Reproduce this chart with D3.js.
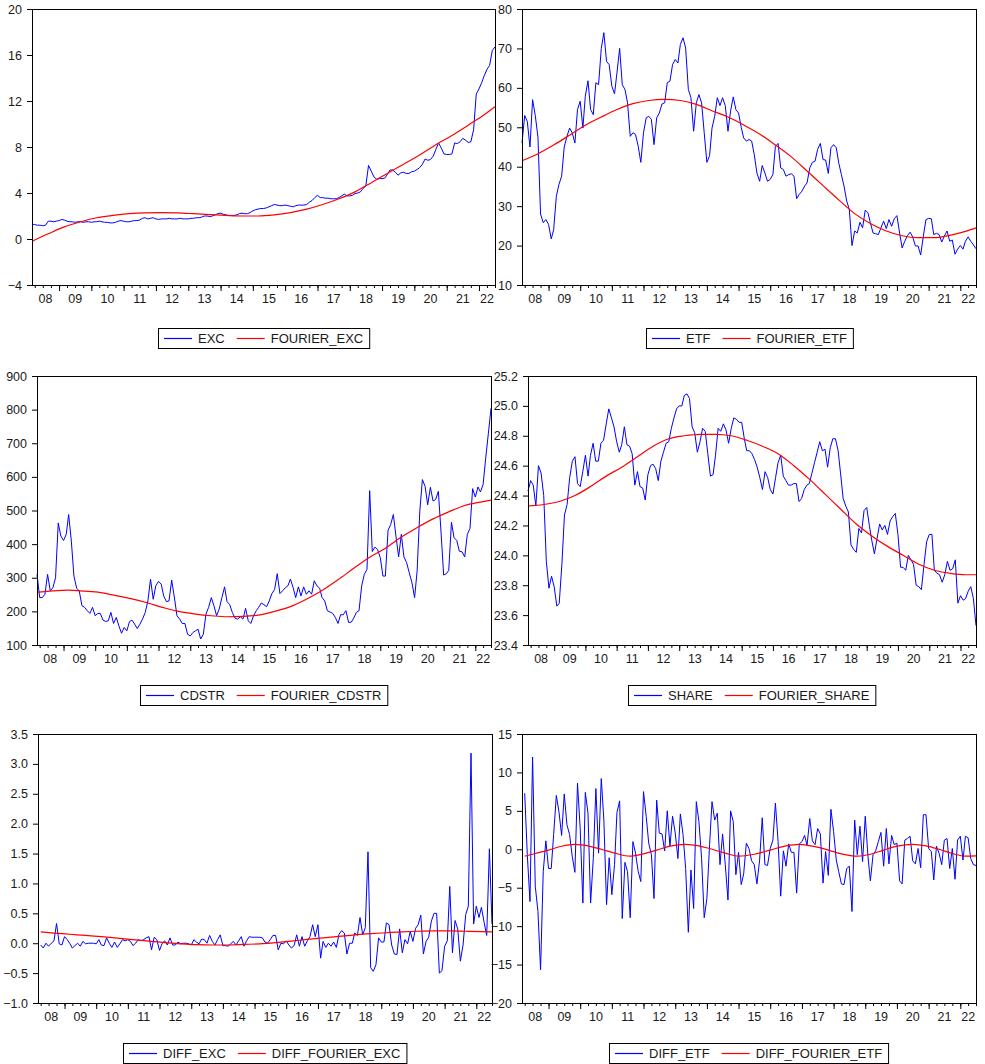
<!DOCTYPE html>
<html>
<head>
<meta charset="utf-8">
<script src="https://cdn.jsdelivr.net/npm/d3@7"></script>
<style>
  body { margin: 0; background: #fff; }
  svg text { font-family: "Liberation Sans", Arial, sans-serif; fill: #1a1a1a; }
</style>
</head>
<body>
<svg id="chart" width="985" height="1064"></svg>
<script>
// monthly sample 2008M03 .. 2022M07, value i belongs to month start + i
var startMonth = new Date(2008, 2, 1);
var yearLabels = ['08', '09', '10', '11', '12', '13', '14', '15', '16', '17', '18', '19', '20', '21', '22'];

var excValues = [
  1.3, 1.25, 1.2, 1.2, 1.15, 1.2, 1.55, 1.55, 1.5, 1.55, 1.6, 1.7, 1.65, 1.55, 1.5,
  1.5, 1.45, 1.5, 1.5, 1.45, 1.5, 1.5, 1.45, 1.5, 1.5, 1.55, 1.5, 1.45, 1.45, 1.4,
  1.4, 1.45, 1.55, 1.6, 1.55, 1.5, 1.5, 1.55, 1.6, 1.6, 1.65, 1.8, 1.85, 1.75, 1.8,
  1.85, 1.75, 1.7, 1.75, 1.75, 1.75, 1.8, 1.75, 1.75, 1.75, 1.8, 1.75, 1.75, 1.75, 1.8,
  1.8, 1.85, 1.85, 1.9, 2.0, 2.0, 1.95, 2.0, 2.1, 2.2, 2.25, 2.15, 2.1, 2.05, 2.05,
  2.05, 2.1, 2.2, 2.25, 2.2, 2.2, 2.3, 2.45, 2.55, 2.6, 2.65, 2.65, 2.7, 2.8, 2.9,
  3.0, 2.95, 2.9, 2.9, 2.95, 2.9, 2.85, 2.8, 2.9, 2.95, 2.95, 2.95, 3.0, 3.2, 3.35,
  3.6, 3.8, 3.6, 3.6, 3.55, 3.55, 3.5, 3.5, 3.5, 3.6, 3.75, 3.9, 3.75, 3.75, 3.8,
  3.95, 4.0, 4.1, 4.4, 4.6, 6.4, 5.9, 5.4, 5.2, 5.25, 5.25, 5.3, 5.6, 6.0, 6.0,
  5.8, 5.55, 5.75, 5.8, 5.7, 5.7, 5.85, 5.9, 6.05, 6.2, 6.5, 6.95, 6.85, 6.9, 7.2,
  7.8, 8.35, 7.9, 7.4, 7.35, 7.35, 7.4, 8.35, 8.3, 8.45, 8.75, 8.6, 8.4, 8.45, 9.5,
  12.6, 13.05, 13.6, 14.2, 14.75, 15.1, 16.4, 16.7
];

var etfValues = [
  46, 53, 51.5, 45, 57, 53, 47.5, 28, 25.8, 26.6, 25.4, 21.7, 24, 32.5, 35.5,
  37.6, 45, 47.7, 49.8, 48.6, 46, 54.5, 56.6, 49.8, 57.9, 61.8, 54.5, 53.2, 61.3, 60.8,
  70, 74, 66.7, 65.9, 60.4, 58.5, 63.8, 70, 60.8, 59.6, 56.2, 47.7, 48.6, 48.2, 45.2,
  41.1, 48.6, 52.4, 52.8, 52, 45.6, 52.4, 53.6, 55.9, 56.2, 61.3, 61.7, 65.9, 67.2, 66.3,
  71, 72.7, 70.1, 59.6, 57.5, 49, 56.2, 58.3, 56.2, 48.6, 41.1, 42.8, 49.8, 52.8, 57.5,
  55.5, 57.5, 55.5, 49, 54.1, 57.7, 54.5, 53.6, 50, 47.3, 46.5, 46.9, 46.5, 43.1, 38.4,
  36.3, 40.3, 38.4, 36.3, 36.8, 38.0, 45.2, 45.9, 39.7, 39.3, 37.6, 38.0, 38.2, 37.6, 31.9,
  33.0, 33.8, 35.1, 35.9, 39.7, 41.1, 41.4, 44.4, 45.9, 41.8, 41.7, 38.3, 44.8, 45.6, 44.8,
  41.0, 38, 35.1, 31.3, 29.2, 20.0, 23.7, 23.2, 25.9, 24.5, 29.0, 28.3, 25.8, 23.2, 23,
  22.8, 24.5, 26.2, 24.3, 26.6, 24.9, 26.8, 27.6, 23.2, 19.4, 21.1, 22.5, 23.4, 22.2, 19.9,
  19.9, 17.6, 22.4, 26.6, 26.9, 26.8, 22.8, 23.1, 22.8, 20.9, 22.4, 23.7, 21.1, 21.4, 17.8,
  19.1, 20.0, 19.1, 21.1, 22.2, 21.1, 20.2, 19.2
];

var cdstrValues = [
  310, 241, 241, 251, 310, 261, 271, 300, 463, 424, 411, 429, 488, 409, 305,
  269, 261, 217, 212, 202, 194, 212, 187, 194, 194, 174, 170, 172, 197, 164,
  182, 157, 135, 152, 142, 170, 174, 162, 149, 162, 177, 197, 231, 296, 236,
  276, 289, 281, 246, 229, 231, 293, 243, 187, 177, 164, 164, 132, 127, 137,
  142, 147, 118, 132, 192, 212, 241, 217, 187, 207, 241, 273, 229, 220, 197,
  180, 177, 184, 177, 209, 172, 164, 187, 202, 212, 225, 220, 214, 231, 253,
  265, 312, 253, 261, 270, 276, 296, 271, 241, 273, 246, 273, 251, 261, 251,
  291, 276, 269, 241, 231, 202, 198, 194, 182, 164, 190, 190, 202, 167, 168,
  180, 197, 202, 276, 310, 325, 559, 378, 391, 384, 360, 305, 305, 441, 458,
  488, 424, 362, 429, 362, 345, 315, 286, 241, 320, 498, 592, 572, 517, 569,
  528, 533, 557, 439, 308, 312, 322, 465, 419, 411, 379, 377, 362, 429, 447,
  565, 540, 570, 555, 577, 656, 730, 804
];

var shareValues = [
  24.43, 24.50, 24.47, 24.33, 24.60, 24.55, 24.40, 23.96, 23.78, 23.86,
  23.79, 23.66, 23.68, 23.94, 24.27, 24.34, 24.52, 24.63, 24.66, 24.48,
  24.46, 24.56, 24.67, 24.53, 24.67, 24.75, 24.63, 24.63, 24.75, 24.77,
  24.88, 24.98, 24.92, 24.86, 24.76, 24.69, 24.74, 24.86, 24.74, 24.73,
  24.68, 24.47, 24.56, 24.46, 24.45, 24.37, 24.54, 24.60, 24.61, 24.58,
  24.50, 24.63, 24.69, 24.75, 24.76, 24.85, 24.92, 24.98, 25.00, 25.00,
  25.07, 25.08, 25.05, 24.86, 24.82, 24.69, 24.76, 24.85, 24.83, 24.68,
  24.53, 24.54, 24.67, 24.85, 24.83, 24.88, 24.84, 24.75, 24.85, 24.92,
  24.91, 24.89, 24.89, 24.78, 24.70, 24.70, 24.68, 24.64, 24.59, 24.52,
  24.44, 24.56, 24.52, 24.44, 24.41, 24.52, 24.62, 24.67, 24.53, 24.50,
  24.47, 24.47, 24.48, 24.48, 24.36, 24.38, 24.44, 24.47, 24.48, 24.55,
  24.62, 24.69, 24.76, 24.70, 24.71, 24.59, 24.72, 24.78, 24.78, 24.70,
  24.55, 24.38, 24.33, 24.29, 24.07, 24.04, 24.02, 24.18, 24.15, 24.30,
  24.32, 24.20, 24.10, 24.01, 24.11, 24.21, 24.17, 24.20, 24.14, 24.23,
  24.26, 24.28, 24.14, 23.92, 23.92, 23.90, 24.00, 23.97, 23.94, 23.80,
  23.79, 23.77, 23.94, 24.09, 24.14, 24.14, 23.90, 23.88, 23.87, 23.82,
  23.87, 23.96, 23.90, 23.91, 23.97, 23.68, 23.73, 23.70, 23.71, 23.76,
  23.79, 23.71, 23.53
];

var diffExcValues = [
  null,
  -0.03, -0.08, 0.0, -0.05, 0.0, 0.04, 0.33, -0.01, -0.03, 0.11,
  0.06, 0.0, -0.08, -0.04, 0.0, -0.05, 0.03, -0.01, 0.0, 0.0,
  0.0, -0.01, 0.06, -0.03, -0.04, 0.09, 0.0, -0.07, 0.02, -0.07,
  -0.01, 0.06, 0.04, 0.06, 0.03, -0.04, 0.0, 0.06, 0.04, 0.06,
  0.09, 0.11, -0.11, 0.10, 0.06, -0.12, 0.0, 0.04, -0.03, 0.09,
  -0.03, -0.03, 0.02, -0.01, 0.0, 0.0, -0.01, -0.03, 0.06, 0.02,
  -0.01, 0.07, 0.06, 0.0, 0.13, 0.03, -0.03, 0.06, 0.14, -0.04,
  -0.04, -0.05, -0.01, 0.03, -0.03, 0.04, 0.11, -0.05, 0.04, 0.11,
  0.10, 0.10, 0.10, 0.10, 0.09, 0.02, 0.0, 0.06, 0.13, 0.13,
  -0.11, 0.0, -0.01, 0.04, -0.03, -0.08, -0.04, 0.14, -0.05, 0.11,
  -0.05, 0.04, 0.11, 0.31, 0.11, 0.31, -0.25, 0.03, -0.07, 0.0,
  -0.05, 0.02, -0.07, 0.15, 0.21, 0.17, -0.18, 0.0, 0.0, 0.17,
  0.13, 0.43, 0.14, 0.26, 1.53, -0.41, -0.47, -0.36, 0.09, 0.02,
  0.02, 0.34, 0.31, -0.03, -0.18, -0.19, 0.24, -0.16, 0.06, -0.01,
  0.20, 0.03, 0.25, 0.31, 0.47, -0.18, 0.03, 0.10, 0.37, 0.50,
  0.50, -0.50, -0.46, -0.05, 0.04, 0.95, -0.16, 0.38, 0.24, -0.30,
  -0.03, 0.48, 0.62, 3.18, 0.32, 0.62, 0.43, 0.60, 0.35, 0.13,
  1.58, 0.32
];

var diffEtfValues = [
  null,
  7.3, -0.7, -6.8, 12.0, -4.8, -8.1, -15.7, -2.9, 1.1, -2.5,
  -2.5, 1.9, 7.0, 4.9, 1.8, 7.2, 3.2, 1.9, -0.9, -3.0,
  8.6, 2.7, -7.0, 7.4, 4.7, -7.0, -1.2, 7.9, -0.5, 9.2,
  3.8, -7.2, -1.1, -5.9, -2.0, 4.8, 6.3, -9.0, -1.7, -2.9,
  -8.9, 1.0, -0.5, -2.9, -4.2, 7.5, 4.3, 0.8, -0.7, -6.4,
  6.4, 2.1, 2.0, -0.2, 5.0, 0.4, 4.3, 2.1, -1.2, 4.6,
  1.9, -2.5, -10.8, -2.7, -7.7, 6.2, 3.6, -1.2, -8.9, -6.4,
  0.6, 6.2, 3.8, 4.7, -2.0, 2.0, -2.0, -6.6, 5.0, 3.6,
  -3.3, -0.4,
  -4.6, -3.2, 0.8, 0.1, -1.5, -2.0, -4.5, -1.4, 4.1, -2.0,
  -2.1, 0.1, 1.2, 6.0, 1.0, -6.1, -0.2, -2.2, 0.7, -0.4,
  -0.4, -5.7, 0.7, 1.0, 1.8, 0.5, 4.0, 1.1, 0.6, 2.7,
  2.0, -4.4, -0.3, -3.4, 5.2, 2.3, -1.4, -2.9, -4.5, -4.6,
  -2.5, -2.2, -8.1, 3.8, -0.7, 3.0, -1.6, 4.3, -0.9, -4.1,
  -0.7, -0.2, 1.0, 2.2, -2.2, 2.7, -1.9, 1.8, 0.6, 0.8,
  -4.1, -4.5, 1.2, 1.4, 1.7, -1.5, -1.9, 0.1, -2.4, 4.5,
  4.5, 0.1, -0.3, -4.0, 0.4, -0.5, -2.0, 1.2, 1.4, -2.5,
  0.1, -3.9, 1.2, 1.7, -1.4, 1.7, 1.5, -1.2, -2.0, -2.1
];

// smooth fourier fits, read at the listed months
var halfYearKnots = [0, 6, 12, 18, 24, 30, 36, 42, 48, 54, 60, 66, 72, 78, 84, 90, 96, 102, 108, 114, 120, 126, 132, 138, 144, 150, 156, 162, 168, 172];
var diffKnots = [1, 6, 12, 18, 24, 30, 36, 42, 48, 54, 60, 66, 72, 78, 84, 90, 96, 102, 108, 114, 120, 126, 132, 138, 144, 150, 156, 162, 168, 172];
var diffEtfKnots = [1, 5, 10, 15, 20, 25, 30, 35, 41, 46, 51, 56, 62, 67, 72, 77, 82, 88, 94, 100, 105, 111, 116, 121, 127, 132, 137, 142, 148, 153, 158, 163, 168, 172];

var fourierExc = [-0.2, 0.45, 1.05, 1.5, 1.85, 2.05, 2.2, 2.28, 2.3, 2.27, 2.2, 2.12, 2.05, 2.0, 2.0, 2.1, 2.3, 2.6, 3.0, 3.5, 4.1, 4.9, 5.7, 6.5, 7.3, 8.2, 9.0, 9.9, 10.8, 11.5];
var fourierEtf = [41.5, 43.3, 45.5, 48, 50.5, 52.6, 54.5, 56, 56.8, 57.1, 56.8, 55.8, 54.2, 52.6, 50.6, 48.3, 45.5, 42.5, 38.9, 35.2, 31.6, 28.1, 25.6, 23.7, 22.5, 22.0, 22.0, 22.6, 23.6, 24.5];
var fourierCdstr = [257, 261, 263, 260, 256, 247, 237, 225, 211, 199, 192, 187, 184, 185, 189, 200, 214, 236, 262, 294, 328, 361, 388, 421, 449, 475, 496, 515, 525, 531];
var fourierShare = [24.33, 24.34, 24.36, 24.40, 24.46, 24.53, 24.59, 24.66, 24.73, 24.78, 24.80, 24.81, 24.81, 24.80, 24.77, 24.73, 24.68, 24.60, 24.51, 24.41, 24.31, 24.21, 24.13, 24.06, 24.00, 23.94, 23.90, 23.88, 23.87, 23.87];
var fourierDiffExc = [0.19, 0.17, 0.15, 0.13, 0.11, 0.085, 0.06, 0.035, 0.01, -0.01, -0.025, -0.03, -0.03, -0.02, -0.01, 0.01, 0.035, 0.065, 0.09, 0.115, 0.14, 0.16, 0.175, 0.19, 0.2, 0.205, 0.205, 0.2, 0.195, 0.19];
var fourierDiffEtf = [-0.9, -0.55, -0.1, 0.4, 0.65, 0.45, 0.0, -0.5, -0.9, -0.6, -0.1, 0.4, 0.65, 0.45, 0.0, -0.5, -0.9, -0.65, -0.1, 0.45, 0.65, 0.35, -0.1, -0.6, -0.9, -0.65, -0.1, 0.4, 0.65, 0.45, 0.0, -0.55, -0.9, -0.85];

var excTicks = [-4, 0, 4, 8, 12, 16, 20];
var etfTicks = [10, 20, 30, 40, 50, 60, 70, 80];
var cdstrTicks = [100, 200, 300, 400, 500, 600, 700, 800, 900];
var shareTicks = [23.4, 23.6, 23.8, 24.0, 24.2, 24.4, 24.6, 24.8, 25.0, 25.2];
var diffExcTicks = [-1.0, -0.5, 0.0, 0.5, 1.0, 1.5, 2.0, 2.5, 3.0, 3.5];
var diffEtfTicks = [-20, -15, -10, -5, 0, 5, 10, 15];

var panels = [
  { box: [32, 495, 9, 285], legendY: 338, ticks: excTicks, fmt: d3.format('d'),
    values: excValues, knots: halfYearKnots, fourier: fourierExc, names: ['EXC', 'FOURIER_EXC'] },
  { box: [522, 976, 9, 285], legendY: 338, ticks: etfTicks, fmt: d3.format('d'),
    values: etfValues, knots: halfYearKnots, fourier: fourierEtf, names: ['ETF', 'FOURIER_ETF'] },
  { box: [37, 491, 376, 645], legendY: 695, ticks: cdstrTicks, fmt: d3.format('d'),
    values: cdstrValues, knots: halfYearKnots, fourier: fourierCdstr, names: ['CDSTR', 'FOURIER_CDSTR'] },
  { box: [528, 976, 376, 645], legendY: 695, ticks: shareTicks, fmt: d3.format('.1f'),
    values: shareValues, knots: halfYearKnots, fourier: fourierShare, names: ['SHARE', 'FOURIER_SHARE'] },
  { box: [38, 492, 734, 1003], legendY: 1053, ticks: diffExcTicks, fmt: d3.format('.1f'),
    values: diffExcValues, knots: diffKnots, fourier: fourierDiffExc, names: ['DIFF_EXC', 'DIFF_FOURIER_EXC'] },
  { box: [522, 976, 734, 1003], legendY: 1053, ticks: diffEtfTicks, fmt: d3.format('d'),
    values: diffEtfValues, knots: diffEtfKnots, fourier: fourierDiffEtf, names: ['DIFF_ETF', 'DIFF_FOURIER_ETF'] }
];

var svg = d3.select('#chart');
var endMonth = d3.timeMonth.offset(startMonth, excValues.length - 1);

var monthDate = function(i) {
  return d3.timeMonth.offset(startMonth, i);
};

var drawPanel = function(p) {
  var left = p.box[0], right = p.box[1], top = p.box[2], bottom = p.box[3];
  var ticks = p.ticks;

  var x = d3.scaleTime().domain([startMonth, endMonth]).range([left, right]);
  var y = d3.scaleLinear().domain([ticks[0], ticks[ticks.length - 1]]).range([bottom, top]);

  var g = svg.append('g');

  // y axis, ticks pointing out to the left
  var yAxis = g.append('g')
    .attr('transform', 'translate(' + left + ',0)')
    .call(d3.axisLeft(y).tickValues(ticks).tickSize(5).tickSizeOuter(0).tickPadding(5).tickFormat(p.fmt));
  yAxis.select('.domain').remove();
  yAxis.selectAll('text').attr('font-size', 12.5).attr('font-family', null);
  yAxis.selectAll('line').attr('stroke', '#000');

  // quarterly and yearly ticks under the frame
  var quarters = d3.timeMonth.every(3).range(startMonth, d3.timeMonth.offset(endMonth, 1));
  var years = d3.timeYear.range(startMonth, d3.timeMonth.offset(endMonth, 1));

  var qAxis = g.append('g')
    .attr('transform', 'translate(0,' + bottom + ')')
    .call(d3.axisBottom(x).tickValues(quarters).tickSize(3).tickSizeOuter(0).tickFormat(''));
  qAxis.select('.domain').remove();
  qAxis.selectAll('line').attr('stroke', '#000');

  var yrAxis = g.append('g')
    .attr('transform', 'translate(0,' + bottom + ')')
    .call(d3.axisBottom(x).tickValues(years).tickSize(6).tickSizeOuter(0).tickFormat(''));
  yrAxis.select('.domain').remove();
  yrAxis.selectAll('line').attr('stroke', '#000');

  // year labels centred in the visible part of each year
  g.selectAll('text.year')
    .data(yearLabels)
    .enter().append('text')
    .attr('class', 'year')
    .attr('text-anchor', 'middle')
    .attr('font-size', 12.5)
    .attr('x', function(label, k) {
      var a = new Date(2008 + k, 0, 1), b = new Date(2009 + k, 0, 1);
      var x0 = Math.max(x(a), left), x1 = Math.min(x(b), right);
      return Math.min((x0 + x1) / 2, right - 6);
    })
    .attr('y', bottom + 17.5)
    .text(function(label) { return label; });

  // series
  var blueLine = d3.line()
    .defined(function(v) { return v !== null; })
    .x(function(v, i) { return x(monthDate(i)); })
    .y(function(v) { return y(v); });

  g.append('path')
    .datum(p.values)
    .attr('fill', 'none')
    .attr('stroke', '#0000ff')
    .attr('stroke-width', 1)
    .attr('d', blueLine);

  var redLine = d3.line()
    .curve(d3.curveMonotoneX)
    .x(function(d) { return x(monthDate(d[0])); })
    .y(function(d) { return y(d[1]); });

  g.append('path')
    .datum(p.knots.map(function(k, j) { return [k, p.fourier[j]]; }))
    .attr('fill', 'none')
    .attr('stroke', '#ff0000')
    .attr('stroke-width', 1.2)
    .attr('d', redLine);

  // frame
  g.append('rect')
    .attr('x', left + 0.5)
    .attr('y', top + 0.5)
    .attr('width', right - left)
    .attr('height', bottom - top)
    .attr('fill', 'none')
    .attr('stroke', '#000')
    .attr('stroke-width', 1);

  drawLegend(p.names, (left + right) / 2, p.legendY);
};

var drawLegend = function(names, cx, cy) {
  var colors = ['#0000ff', '#ff0000'];
  var lg = svg.append('g');
  var box = lg.append('rect');
  var pos = 6;

  names.forEach(function(name, k) {
    if (k > 0) pos += 12;
    lg.append('line')
      .attr('x1', pos).attr('x2', pos + 28)
      .attr('y1', 0.5).attr('y2', 0.5)
      .attr('stroke', colors[k]).attr('stroke-width', 1.2);
    pos += 34;
    var t = lg.append('text')
      .attr('x', pos).attr('y', 0)
      .attr('dy', '0.36em')
      .attr('font-size', 13)
      .text(name);
    pos += t.node().getComputedTextLength();
  });
  pos += 6;

  box.attr('x', 0.5).attr('y', -9.5)
    .attr('width', pos).attr('height', 20)
    .attr('fill', '#fff').attr('stroke', '#000').attr('stroke-width', 1);

  lg.attr('transform', 'translate(' + Math.round(cx - pos / 2) + ',' + cy + ')');
};

panels.forEach(drawPanel);
</script>
</body>
</html>
